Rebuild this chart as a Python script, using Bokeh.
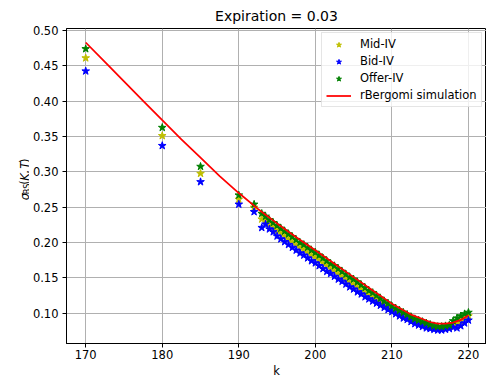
import math
from bokeh.plotting import figure
from bokeh.layouts import row
from bokeh.models import (Range1d, FixedTicker, NumeralTickFormatter, Label,
                          Legend, LegendItem, ColumnDataSource)
from bokeh.embed import file_html
from bokeh.resources import INLINE

# ---------------- data ----------------
strikes = [170, 180, 185, 190, 192,
           193, 193.5, 194, 194.5, 195, 195.5, 196, 196.5, 197, 197.5,
           198, 198.5, 199, 199.5, 200, 200.5, 201, 201.5, 202, 202.5,
           203, 203.5, 204, 204.5, 205, 205.5, 206, 206.5, 207, 207.5,
           208, 208.5, 209, 209.5, 210, 210.5, 211, 211.5, 212, 212.5,
           213, 213.5, 214, 214.5, 215, 215.5, 216, 216.5, 217, 217.5,
           218, 218.5, 219, 219.5, 220]

mid_iv = [0.461, 0.351, 0.2976, 0.261, 0.2496,
          0.233, 0.231, 0.226, 0.222, 0.217, 0.213, 0.209, 0.205, 0.201, 0.197,
          0.193, 0.190, 0.186, 0.182, 0.179, 0.175, 0.171, 0.167, 0.163, 0.160,
          0.156, 0.152, 0.148, 0.144, 0.141, 0.137, 0.134, 0.130, 0.126, 0.123,
          0.120, 0.116, 0.113, 0.110, 0.106, 0.103, 0.100, 0.097, 0.095, 0.092,
          0.089, 0.087, 0.085, 0.083, 0.081, 0.080, 0.079, 0.079, 0.080, 0.081,
          0.085, 0.086, 0.089, 0.093, 0.096]

bid_iv = [0.4425, 0.337, 0.2858, 0.254, 0.2434,
          0.221, 0.226, 0.219, 0.215, 0.209, 0.205, 0.201, 0.197, 0.193, 0.189,
          0.185, 0.182, 0.178, 0.174, 0.171, 0.167, 0.163, 0.159, 0.156, 0.152,
          0.148, 0.145, 0.141, 0.137, 0.134, 0.130, 0.127, 0.123, 0.120, 0.117,
          0.114, 0.111, 0.108, 0.105, 0.102, 0.099, 0.096, 0.093, 0.091, 0.088,
          0.085, 0.083, 0.081, 0.079, 0.078, 0.077, 0.076, 0.076, 0.077, 0.078,
          0.080, 0.079, 0.082, 0.086, 0.090]

offer_iv = [0.474, 0.3626, 0.3075, 0.267, 0.254,
            0.241, 0.237, 0.232, 0.228, 0.224, 0.220, 0.216, 0.212, 0.208, 0.204,
            0.200, 0.197, 0.193, 0.189, 0.186, 0.182, 0.178, 0.174, 0.170, 0.167,
            0.163, 0.159, 0.155, 0.151, 0.148, 0.144, 0.140, 0.136, 0.132, 0.129,
            0.125, 0.121, 0.117, 0.114, 0.110, 0.107, 0.104, 0.101, 0.098, 0.095,
            0.092, 0.090, 0.088, 0.086, 0.084, 0.082, 0.081, 0.081, 0.082, 0.083,
            0.089, 0.093, 0.096, 0.099, 0.101]

sim_k = [170, 172.5, 175, 177.5, 180, 182.5, 185, 187.5, 190, 192.5, 195,
         197.5, 200, 202.5, 205, 207.5, 210, 212.5, 214, 215, 216, 217, 218,
         219, 220]
sim_iv = [0.483, 0.4555, 0.428, 0.4005, 0.373, 0.346, 0.320, 0.294, 0.270,
          0.2475, 0.227, 0.2075, 0.189, 0.170, 0.151, 0.132, 0.1135, 0.098,
          0.0917, 0.0875, 0.0852, 0.0851, 0.0866, 0.0905, 0.097]

x_ticks = [170, 180, 190, 200, 210, 220]
y_ticks = [0.10, 0.15, 0.20, 0.25, 0.30, 0.35, 0.40, 0.45, 0.50]
title_text = "Expiration = 0.03"
x_label = "k"
series_names = ["Mid-IV", "Bid-IV", "Offer-IV", "rBergomi simulation"]

FONT = "DejaVu Sans"
FS = "11.5px"
LW = 29          # width of the strip that carries the y-axis title
H = 385

# ---------------- main plot ----------------
p = figure(width=486 - LW, height=H, output_backend="svg", toolbar_location=None,
           x_range=Range1d(167.49, 222.36), y_range=Range1d(0.0571, 0.5028),
           min_border_left=64 - LW, min_border_right=0, min_border_top=28,
           min_border_bottom=42)
p.background_fill_color = "white"
p.border_fill_color = "white"
p.outline_line_color = "black"
p.outline_line_width = 1

p.title.text = title_text
p.title.align = "center"
p.title.text_font = FONT
p.title.text_font_size = "14px"
p.title.text_font_style = "normal"
p.title.text_color = "black"
p.title.standoff = 9

for ax in (p.xaxis[0], p.yaxis[0]):
    ax.axis_line_color = "black"
    ax.axis_line_width = 1
    ax.major_tick_line_color = "black"
    ax.major_tick_line_width = 1
    ax.major_tick_out = 4
    ax.major_tick_in = 0
    ax.minor_tick_line_color = None
    ax.major_label_text_font = FONT
    ax.major_label_text_font_size = FS
    ax.major_label_text_color = "black"
    ax.major_label_standoff = 4
p.xaxis.major_label_standoff = 2

p.xaxis.ticker = FixedTicker(ticks=x_ticks)
p.yaxis.ticker = FixedTicker(ticks=y_ticks)
p.yaxis.formatter = NumeralTickFormatter(format="0.00")
p.xaxis.axis_label = x_label
p.xaxis.axis_label_text_font = FONT
p.xaxis.axis_label_text_font_size = FS
p.xaxis.axis_label_text_font_style = "normal"
p.xaxis.axis_label_text_color = "black"
p.xaxis.axis_label_standoff = 2

p.xgrid.grid_line_color = "#b0b0b0"
p.ygrid.grid_line_color = "#b0b0b0"
p.xgrid.grid_line_width = 1
p.ygrid.grid_line_width = 1

src = ColumnDataSource(dict(k=strikes, mid=mid_iv, bid=bid_iv, offer=offer_iv))
r_mid = p.scatter("k", "mid", source=src, marker="star", size=8,
                  fill_color="#bfbf00", line_color="#bfbf00")
r_bid = p.scatter("k", "bid", source=src, marker="star", size=8,
                  fill_color="#0000ff", line_color="#0000ff")
r_off = p.scatter("k", "offer", source=src, marker="star", size=8,
                  fill_color="#008000", line_color="#008000")
r_sim = p.line(sim_k, sim_iv, line_color="#ff0000", line_width=1.75)

legend = Legend(items=[LegendItem(label=series_names[0], renderers=[r_mid]),
                       LegendItem(label=series_names[1], renderers=[r_bid]),
                       LegendItem(label=series_names[2], renderers=[r_off]),
                       LegendItem(label=series_names[3], renderers=[r_sim])],
                location=(255, 236), margin=0, padding=4, spacing=3,
                glyph_width=25, glyph_height=13, label_height=13,
                label_standoff=9, label_text_font=FONT,
                label_text_font_size=FS, label_text_color="black",
                border_line_color="#cccccc", border_line_width=1,
                background_fill_color="white", background_fill_alpha=0.8)
p.add_layout(legend)

# ---------------- strip carrying the y-axis title sigma_BS(K, T) ----------------
q = figure(width=LW, height=H, output_backend="svg", toolbar_location=None,
           title=None, x_range=Range1d(0, LW), y_range=Range1d(0, H),
           min_border=0, x_axis_location=None, y_axis_location=None)
q.grid.visible = False
q.outline_line_color = None
q.background_fill_color = "white"
q.border_fill_color = "white"

# (text, canvas y where the run starts, baseline x, size, style)
pieces = [
    ("\u03c3", 210.0, 24.0, "11.5px", "italic"),
    ("BS", 202.5, 26.5, "8px", "normal"),
    ("(", 191.0, 24.0, "11.5px", "normal"),
    ("K", 186.0, 24.0, "11.5px", "italic"),
    (",", 177.5, 24.0, "11.5px", "normal"),
    ("T", 171.5, 24.0, "11.5px", "italic"),
    (")", 164.5, 24.0, "11.5px", "normal"),
]
for txt, sy, sx, fs, st in pieces:
    q.add_layout(Label(x=sx, y=H - sy, text=txt, angle=math.pi / 2,
                       text_align="left", text_baseline="alphabetic",
                       text_font=FONT, text_font_size=fs, text_font_style=st,
                       text_color="black"))

layout = row(q, p, spacing=0)
open("out.html", "w").write(file_html(layout, INLINE))
